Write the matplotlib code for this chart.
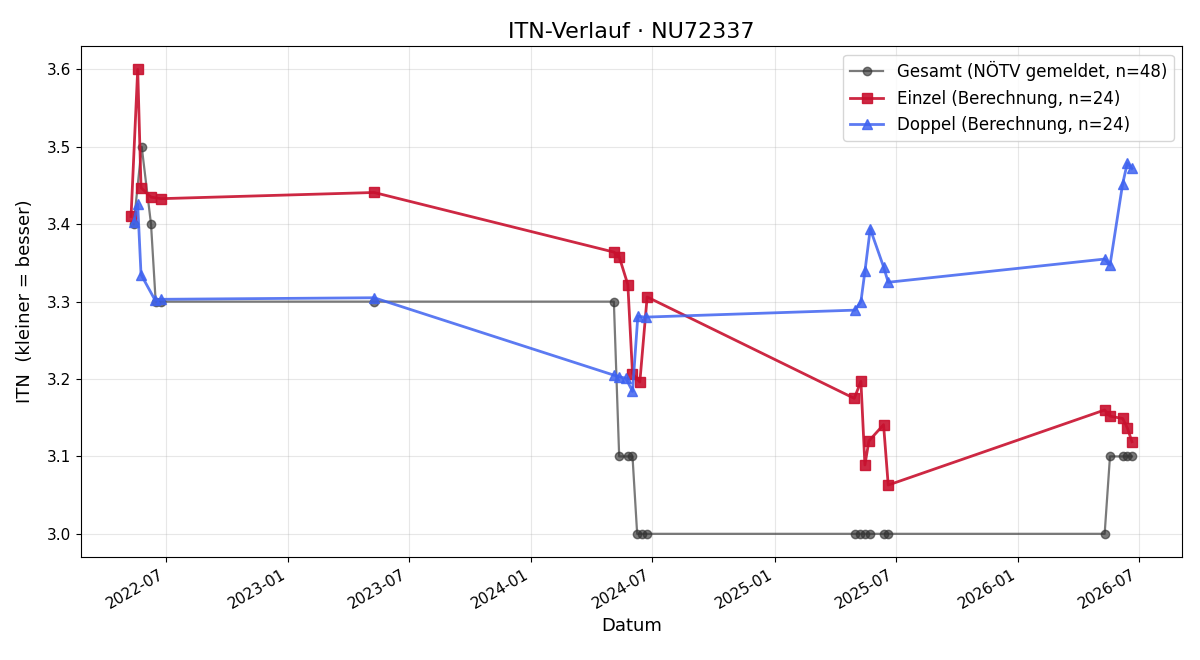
import numpy as np
import pandas as pd
import matplotlib
matplotlib.use("Agg")
import matplotlib.pyplot as plt
import matplotlib.dates as mdates

# ---------------------------------------------------------------------------
# data
# ---------------------------------------------------------------------------
gesamt_dates = ["2022-05-14", "2022-05-26", "2022-06-09", "2022-06-16", "2022-06-24",
                "2023-05-10",
                "2024-05-04", "2024-05-12", "2024-05-25", "2024-06-01",
                "2024-06-08", "2024-06-16", "2024-06-23",
                "2025-05-01", "2025-05-09", "2025-05-16", "2025-05-23",
                "2025-06-13", "2025-06-20",
                "2026-05-11", "2026-05-19", "2026-06-07", "2026-06-14", "2026-06-21"]
gesamt_itn = [3.40, 3.50, 3.40, 3.30, 3.30,
              3.30,
              3.30, 3.10, 3.10, 3.10,
              3.00, 3.00, 3.00,
              3.00, 3.00, 3.00, 3.00,
              3.00, 3.00,
              3.00, 3.10, 3.10, 3.10, 3.10]

einzel_dates = ["2022-05-10", "2022-05-20", "2022-05-25", "2022-06-09", "2022-06-24",
                "2023-05-10",
                "2024-05-04", "2024-05-12", "2024-05-25", "2024-06-01", "2024-06-12",
                "2024-06-23",
                "2025-04-30", "2025-05-10", "2025-05-16", "2025-05-22", "2025-06-13",
                "2025-06-20",
                "2026-05-11", "2026-05-19", "2026-06-07", "2026-06-14", "2026-06-21"]
einzel_itn = [3.410, 3.600, 3.447, 3.435, 3.433,
              3.441,
              3.364, 3.358, 3.322, 3.207, 3.196, 3.306,
              3.175, 3.197, 3.089, 3.120, 3.141, 3.063,
              3.160, 3.152, 3.149, 3.137, 3.119]

doppel_dates = ["2022-05-14", "2022-05-20", "2022-05-25", "2022-06-15", "2022-06-24",
                "2023-05-10",
                "2024-05-04", "2024-05-12", "2024-05-22", "2024-06-01", "2024-06-09",
                "2024-06-21",
                "2025-05-01", "2025-05-10", "2025-05-16", "2025-05-24", "2025-06-13",
                "2025-06-20",
                "2026-05-11", "2026-05-19", "2026-06-07", "2026-06-14", "2026-06-21"]
doppel_itn = [3.403, 3.426, 3.335, 3.302, 3.303,
              3.305,
              3.205, 3.203, 3.201, 3.184, 3.281, 3.280,
              3.289, 3.300, 3.339, 3.394, 3.345, 3.325,
              3.355, 3.347, 3.452, 3.479, 3.472]

# ---------------------------------------------------------------------------
# plot
# ---------------------------------------------------------------------------
fig, ax = plt.subplots(figsize=(12, 6.6), dpi=100)

ax.plot(pd.to_datetime(gesamt_dates), gesamt_itn, marker="o", markersize=6,
        linewidth=1.6, color="#333333", alpha=0.65,
        label="Gesamt (NÖTV gemeldet, n=48)")
ax.plot(pd.to_datetime(einzel_dates), einzel_itn, marker="s", markersize=7,
        linewidth=2, color="#c8102e", alpha=0.9,
        label="Einzel (Berechnung, n=24)")
ax.plot(pd.to_datetime(doppel_dates), doppel_itn, marker="^", markersize=7,
        linewidth=2, color="#3f63f0", alpha=0.85,
        label="Doppel (Berechnung, n=24)")

ax.set_title("ITN-Verlauf · NU72337", fontsize=16)
ax.set_xlabel("Datum", fontsize=13)
ax.set_ylabel("ITN  (kleiner = besser)", fontsize=13, labelpad=9)
ax.xaxis.set_major_locator(mdates.MonthLocator(bymonth=[1, 7]))
ax.xaxis.set_major_formatter(mdates.DateFormatter("%Y-%m"))
ax.tick_params(labelsize=11)
ax.grid(True, alpha=0.3)
ax.legend(loc="upper right", fontsize=12)
fig.autofmt_xdate()

fig.subplots_adjust(left=0.0675, right=0.985, top=0.930, bottom=0.156)
fig.savefig("out.png")
